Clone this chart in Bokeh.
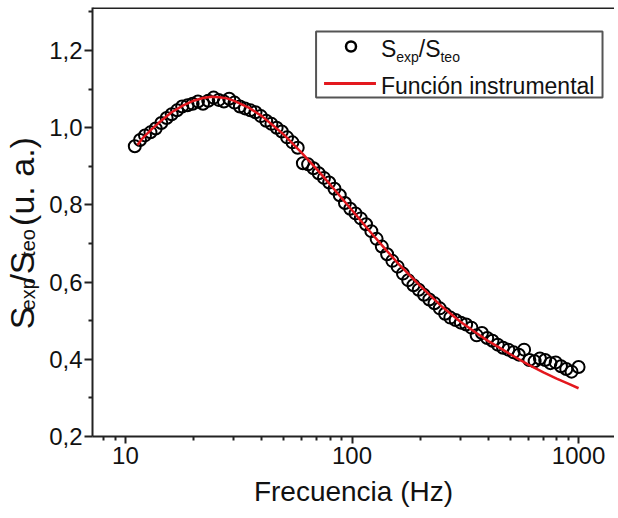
import math
from bokeh.plotting import figure
from bokeh.layouts import row
from bokeh.models import Range1d, FixedTicker, Label, Span
from bokeh.embed import file_html
from bokeh.resources import INLINE

# ---- data ----
freq_exp = [11.0, 11.6, 12.2, 12.9, 13.6, 14.4, 15.2, 16.0, 16.9, 17.8, 18.8, 19.8,
            20.9, 22.0, 23.2, 24.5, 25.8, 27.2, 28.7, 30.3, 32.0, 33.7, 35.6, 37.5,
            39.6, 41.8, 44.1, 46.5, 49.0, 51.7, 54.6, 57.6, 60.7, 64.0, 67.6, 71.3,
            75.2, 79.3, 83.7, 88.3, 93.1, 98.2, 103.6, 109.3, 115.3, 121.7, 128.4,
            135.4, 142.9, 150.7, 159.0, 167.8, 177.0, 186.7, 197.0, 207.8, 219.3,
            231.3, 244.0, 257.5, 271.6, 286.6, 302.3, 319.0, 336.5, 355.0, 374.6,
            395.2, 416.9, 439.8, 464.0, 489.6, 516.5, 544.9, 574.9, 606.5, 639.9,
            675.1, 712.2, 751.4, 792.7, 836.3, 882.4, 930.9, 1000.0]
ratio_exp = [0.952, 0.968, 0.980, 0.988, 0.998, 1.012, 1.025, 1.035, 1.045, 1.055, 1.058, 1.062,
             1.068, 1.062, 1.070, 1.078, 1.072, 1.068, 1.075, 1.065, 1.055, 1.050, 1.045, 1.040,
             1.030, 1.018, 1.010, 1.000, 0.990, 0.975, 0.962, 0.948, 0.908, 0.905, 0.895, 0.882,
             0.870, 0.858, 0.842, 0.825, 0.805, 0.790, 0.778, 0.765, 0.750, 0.732, 0.712,
             0.692, 0.672, 0.655, 0.640, 0.622, 0.605, 0.592, 0.580, 0.567, 0.555,
             0.545, 0.532, 0.518, 0.508, 0.502, 0.495, 0.490, 0.482, 0.462, 0.468,
             0.455, 0.448, 0.438, 0.430, 0.425, 0.418, 0.412, 0.425, 0.398, 0.395,
             0.402, 0.398, 0.390, 0.392, 0.382, 0.375, 0.368, 0.380]

freq_fit = [11.3, 12, 13, 14, 15, 16, 18, 20, 22, 24, 26, 28, 30, 35, 40, 45, 50, 60, 70,
            80, 90, 100, 120, 140, 160, 200, 250, 300, 350, 400, 500, 600, 700, 800, 900, 1000]
ratio_fit = [0.955, 0.975, 0.995, 1.012, 1.027, 1.040, 1.058, 1.070, 1.077, 1.080, 1.079,
             1.076, 1.070, 1.052, 1.030, 1.005, 0.982, 0.935, 0.892, 0.853, 0.818, 0.786,
             0.731, 0.686, 0.648, 0.590, 0.536, 0.498, 0.470, 0.447, 0.413, 0.386, 0.366,
             0.350, 0.337, 0.325]

x_major = [10, 100, 1000]
x_minor = [8, 9, 20, 30, 40, 50, 60, 70, 80, 90, 200, 300, 400, 500, 600, 700, 800, 900]
x_tick_labels = {10: "10", 100: "100", 1000: "1000"}
y_major = [0.2, 0.4, 0.6, 0.8, 1.0, 1.2]
y_minor = [0.3, 0.5, 0.7, 0.9, 1.1, 1.3]
y_tick_labels = {0.2: "0,2", 0.4: "0,4", 0.6: "0,6", 0.8: "0,8", 1.0: "1,0", 1.2: "1,2"}

legend_exp = ("S", "exp", "/S", "teo")
legend_fit = "Función instrumental"
x_title = "Frecuencia (Hz)"
y_title = ("S", "exp", "/S", "teo", "(u. a.)")

# ---- layout (page pixels; canvas origin observed at 2,2) ----
ORG = 2
SIDE_W = 46
MAIN_W = 568
H = 516
FR_L, FR_T, FR_B = 93, 9, 438
FR_W = ORG + SIDE_W + MAIN_W - FR_L
PX_PER_DEC = 227
X_START = 10 ** (1 - (126 - FR_L) / PX_PER_DEC)
X_END = 10 ** (math.log10(X_START) + FR_W / PX_PER_DEC)
Y_START, Y_END = 0.2, 0.2 + (FR_B - FR_T) * 0.2 / ((FR_B - 52) / 5)
FONT = "Liberation Sans"
INK = "#111111"
RED = "#e3181e"
LX0, LX1 = math.log10(X_START), math.log10(X_END)


def fx(px):
    return 10 ** (LX0 + (px - FR_L) / FR_W * (LX1 - LX0))


def fy(py):
    return Y_START + (FR_B - py) / (FR_B - FR_T) * (Y_END - Y_START)


def w(s, size):
    em = {"S": .667, "/": .278, " ": .278, "(": .333, ")": .333, "u": .556, ".": .278,
          "a": .556, "e": .556, "x": .5, "p": .556, "t": .278, "o": .556}
    return sum(em.get(c, .556) for c in s) * size


p = figure(width=MAIN_W, height=H, x_axis_type="log",
           x_range=Range1d(X_START, X_END), y_range=Range1d(Y_START, Y_END),
           output_backend="svg", toolbar_location=None,
           min_border_left=FR_L - ORG - SIDE_W, min_border_right=0,
           min_border_top=FR_T - ORG, min_border_bottom=ORG + H - FR_B)
p.outline_line_color = None
p.grid.visible = False

for ax in (p.xaxis[0], p.yaxis[0]):
    ax.axis_line_width = 2
    ax.axis_line_color = "#222222"
    ax.major_tick_line_width = 2
    ax.major_tick_line_color = "#222222"
    ax.minor_tick_line_width = 2
    ax.minor_tick_line_color = "#222222"
    ax.major_tick_in = 0
    ax.minor_tick_in = 0
    ax.major_label_text_font = FONT
    ax.major_label_text_font_size = "24px"
    ax.major_label_text_color = INK

p.xaxis.ticker = FixedTicker(ticks=x_major, minor_ticks=x_minor)
p.xaxis.major_label_overrides = x_tick_labels
p.xaxis.major_tick_out = 7
p.xaxis.minor_tick_out = 4
p.xaxis.major_label_standoff = 3
p.xaxis.axis_label = x_title
p.xaxis.axis_label_text_font = FONT
p.xaxis.axis_label_text_font_size = "28px"
p.xaxis.axis_label_text_font_style = "normal"
p.xaxis.axis_label_text_color = INK
p.xaxis.axis_label_standoff = 9

p.yaxis.ticker = FixedTicker(ticks=y_major, minor_ticks=y_minor)
p.yaxis.major_label_overrides = y_tick_labels
p.yaxis.major_tick_out = 8
p.yaxis.minor_tick_out = 4
p.yaxis.major_label_standoff = 2

p.add_layout(Span(location=Y_END, dimension="width", line_color="#222222", line_width=3))

# data
p.scatter(freq_exp, ratio_exp, marker="circle", size=12, fill_color=None,
          line_color="black", line_width=2)
p.line(freq_fit, ratio_fit, line_color=RED, line_width=2.5)

# legend
p.quad(left=fx(317), right=fx(604), top=fy(33), bottom=fy(99), fill_color="white",
       line_color="#555555", line_width=2)
p.scatter([fx(352)], [fy(48)], marker="circle", size=10, fill_color=None,
          line_color="black", line_width=2.5)
p.line([fx(325), fx(377)], [fy(85), fy(85)], line_color=RED, line_width=3)

x = 382
for i, part in enumerate(legend_exp):
    sub = i % 2 == 1
    size = 14 if sub else 23
    p.add_layout(Label(x=fx(x), y=fy(58 if sub else 50), text=part, text_font=FONT,
                       text_font_size=f"{size}px", text_color=INK,
                       text_baseline="alphabetic", text_align="left"))
    x += w(part, size)
p.add_layout(Label(x=fx(382), y=fy(87), text=legend_fit, text_font=FONT,
                   text_font_size="23px", text_color=INK,
                   text_baseline="alphabetic", text_align="left"))

# side strip carrying the rotated y title with subscripts (data units = pixels, y up)
side = figure(width=SIDE_W, height=H, x_range=Range1d(0, SIDE_W), y_range=Range1d(0, H),
              x_axis_location=None, y_axis_location=None,
              output_backend="svg", toolbar_location=None,
              min_border_left=0, min_border_right=0, min_border_top=0, min_border_bottom=0)
side.outline_line_color = None
side.grid.visible = False


def sy(page_y):
    return H - (page_y - ORG)


BIG, SMALL = 34, 20
yy = 389
for i, part in enumerate(y_title):
    sub = i in (1, 3)
    size = SMALL if sub else BIG
    if i == 4:
        yy -= w(" ", BIG)
    side.add_layout(Label(x=27 if sub else 21, y=sy(yy), text=part, text_font=FONT,
                          text_font_size=f"{size}px", text_color=INK, angle=90,
                          angle_units="deg", text_baseline="alphabetic", text_align="left"))
    yy -= w(part, size)

layout = row(side, p, spacing=0)
open("out.html", "w").write(file_html(layout, INLINE))
